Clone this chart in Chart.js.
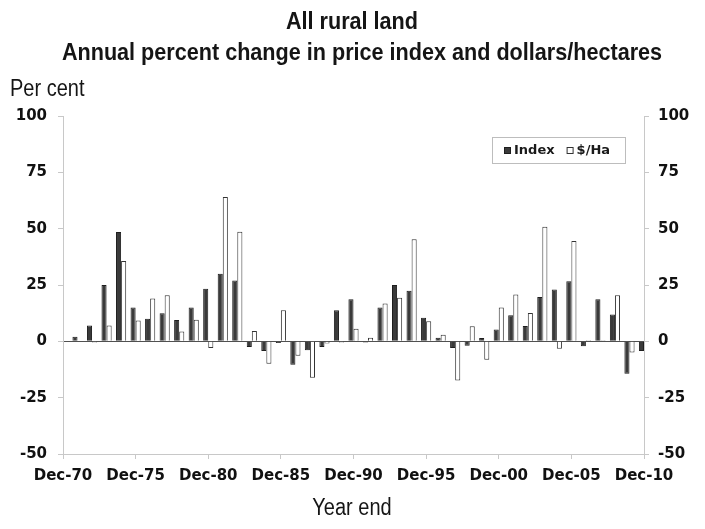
<!DOCTYPE html>
<html>
<head>
<meta charset="utf-8">
<script src="https://cdn.jsdelivr.net/npm/chart.js@4/dist/chart.umd.min.js"></script>
<style>
  html, body { margin: 0; padding: 0; background: #fff; }
  #wrap { width: 705px; height: 529px; }
</style>
</head>
<body>
<div id="wrap"><canvas id="ruralChart" width="705" height="529"></canvas></div>
<script>
// anos (Dec-70 .. Dec-10)
const anos = [
  'Dec-70', 'Dec-71', 'Dec-72', 'Dec-73', 'Dec-74', 'Dec-75', 'Dec-76', 'Dec-77', 'Dec-78', 'Dec-79',
  'Dec-80', 'Dec-81', 'Dec-82', 'Dec-83', 'Dec-84', 'Dec-85', 'Dec-86', 'Dec-87', 'Dec-88', 'Dec-89',
  'Dec-90', 'Dec-91', 'Dec-92', 'Dec-93', 'Dec-94', 'Dec-95', 'Dec-96', 'Dec-97', 'Dec-98', 'Dec-99',
  'Dec-00', 'Dec-01', 'Dec-02', 'Dec-03', 'Dec-04', 'Dec-05', 'Dec-06', 'Dec-07', 'Dec-08', 'Dec-09',
  'Dec-10'
];

// variação anual do índice de preços (%)
const indice = [
  null, 2, 7, 25, 48.5, 15, 10, 12.5, 9.5, 15,
  23.3, 30, 27, -2.5, -4.3, -0.7, -10.4, -4, -2.5, 13.8,
  18.7, -0.5, 15, 25, 22.4, 10.5, 1.6, -3, -2, 1.5,
  5.2, 11.6, 6.8, 19.7, 23, 26.7, -2.2, 18.7, 11.9, -14.4,
  -4.3
];

// variação anual de $/hectare (%)
const porHa = [
  null, null, -0.5, 7, 35.7, 9.3, 19, 20.5, 4.4, 9.6,
  -3, 64, 48.6, 4.6, -10, 13.8, -6.4, -16.2, -1, -0.5,
  5.6, 1.6, 16.8, 19.3, 45.3, 8.9, 2.9, -17.4, 6.7, -8.2,
  15, 20.8, 12.6, 50.9, -3.3, 44.5, 0.5, 0.5, 20.5, -5,
  -11.4
];

const titulo = ['All rural land', 'Annual percent change in price index and dollars/hectares'];
const tituloY = 'Per cent';
const tituloX = 'Year end';

const fonteEixo = { family: '"DejaVu Sans", Verdana, sans-serif', size: 15, weight: 'bold' };
const corEixo = '#c8c8c8';

// texto "condensado": fonte normal apertada na horizontal
function textoEstreito(ctx, txt, x, y, aperto) {
  ctx.save();
  ctx.translate(x, y);
  ctx.scale(aperto, 1);
  ctx.fillText(txt, 0, 0);
  ctx.restore();
}

// textos soltos: título, "Per cent", "Year end"
const textos = {
  id: 'textos',
  afterDraw(chart) {
    const ctx = chart.ctx;
    ctx.save();
    ctx.fillStyle = '#151515';
    ctx.textBaseline = 'alphabetic';
    ctx.textAlign = 'center';
    ctx.font = 'bold 24px "Liberation Sans", Arial, sans-serif';
    textoEstreito(ctx, titulo[0], 352, 29, 0.9);
    textoEstreito(ctx, titulo[1], 362, 60, 0.9);
    ctx.font = '23px "Liberation Sans", Arial, sans-serif';
    textoEstreito(ctx, tituloX, 352, 515, 0.87);
    ctx.textAlign = 'left';
    textoEstreito(ctx, tituloY, 10, 96, 0.87);
    ctx.restore();
  }
};

// legenda com moldura dentro da área do gráfico
const legendaBox = {
  id: 'legendaBox',
  afterDatasetsDraw(chart) {
    const ctx = chart.ctx;
    const a = chart.chartArea;
    const x = a.right - 152, y = a.top + 21, w = 133, h = 26;
    ctx.save();
    ctx.fillStyle = '#fff';
    ctx.fillRect(x, y, w, h);
    ctx.strokeStyle = '#bdbdbd';
    ctx.lineWidth = 1;
    ctx.strokeRect(x + 0.5, y + 0.5, w, h);
    ctx.font = 'bold 13px "DejaVu Sans", Verdana, sans-serif';
    ctx.textBaseline = 'middle';
    ctx.textAlign = 'left';
    let cx = x + 12;
    chart.data.datasets.forEach(ds => {
      ctx.fillStyle = ds.backgroundColor;
      ctx.strokeStyle = ds.borderColor;
      ctx.fillRect(cx, y + 10, 7, 7);
      ctx.strokeRect(cx + 0.5, y + 10.5, 6, 6);
      ctx.fillStyle = '#1a1a1a';
      ctx.fillText(ds.label, cx + 10, y + 14);
      cx += 10 + ctx.measureText(ds.label).width + 12;
    });
    ctx.restore();
  }
};

new Chart(document.getElementById('ruralChart'), {
  type: 'bar',
  data: {
    labels: anos,
    datasets: [
      {
        label: 'Index',
        data: indice,
        backgroundColor: '#3a3a3a',
        borderColor: '#1e1e1e',
        borderWidth: 1,
        clip: 0
      },
      {
        label: '$/Ha',
        data: porHa,
        backgroundColor: '#ffffff',
        borderColor: '#333333',
        borderWidth: 1,
        clip: 0
      }
    ]
  },
  options: {
    responsive: false,
    animation: false,
    devicePixelRatio: 1,
    layout: { padding: { top: 116, bottom: 0, left: 0, right: 0 } },
    datasets: { bar: { barPercentage: 1, categoryPercentage: 0.7 } },
    plugins: {
      legend: { display: false },
      title: { display: false },
      tooltip: { enabled: false }
    },
    scales: {
      x: {
        offset: false,
        afterFit: s => { s.height = 75; },
        border: { color: corEixo },
        grid: {
          offset: false,
          drawOnChartArea: false,
          tickLength: 5,
          tickColor: c => (c.index % 5 === 0 ? corEixo : 'rgba(0,0,0,0)')
        },
        ticks: {
          autoSkip: false,
          maxRotation: 0,
          padding: 8,
          color: '#111',
          font: fonteEixo,
          callback: (v, i) => (i % 5 === 0 ? anos[i] : '')
        }
      },
      y: {
        position: 'left',
        min: -50,
        max: 100,
        afterFit: s => { s.width = 63; },
        border: { color: corEixo },
        grid: {
          color: c => (c.tick.value === 0 ? '#505050' : 'rgba(0,0,0,0)'),
          tickLength: 5,
          tickColor: corEixo
        },
        ticks: { stepSize: 25, padding: 11, color: '#111', font: fonteEixo }
      },
      y2: {
        position: 'right',
        min: -50,
        max: 100,
        afterFit: s => { s.width = 61; },
        border: { color: corEixo },
        grid: { drawOnChartArea: false, tickLength: 5, tickColor: corEixo },
        ticks: { stepSize: 25, padding: 9, color: '#111', font: fonteEixo }
      }
    }
  },
  plugins: [textos, legendaBox]
});
</script>
</body>
</html>
